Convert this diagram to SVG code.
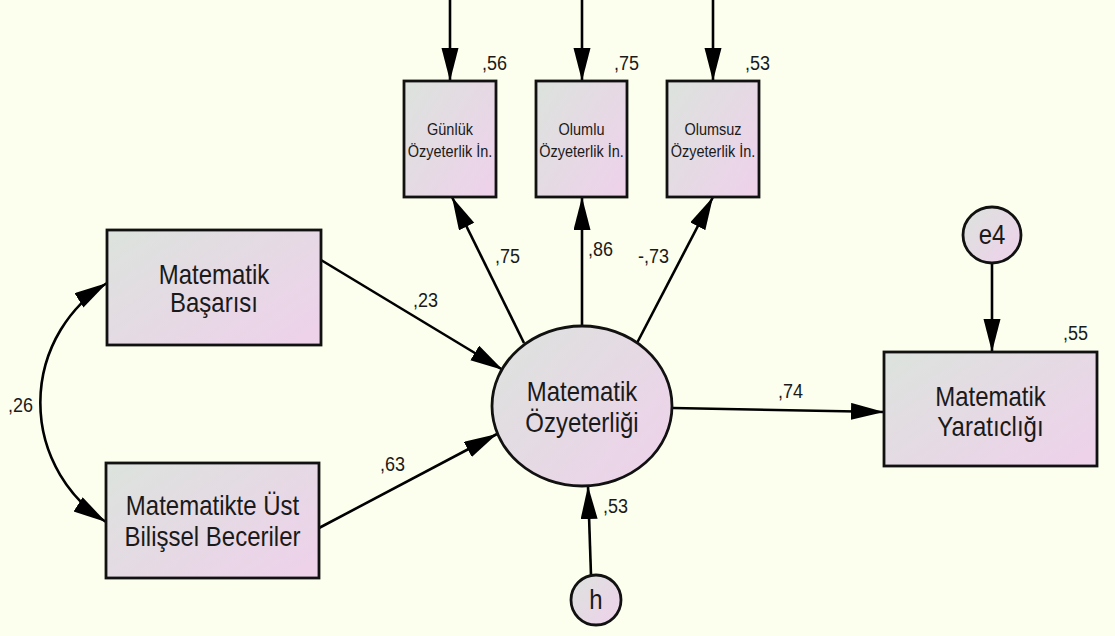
<svg xmlns="http://www.w3.org/2000/svg" width="1115" height="636" viewBox="0 0 1115 636">
  <defs>
    <linearGradient id="fillGrad" x1="0" y1="0" x2="1" y2="0.8">
      <stop offset="0" stop-color="#DCE3DD"/>
      <stop offset="1" stop-color="#EDD2EA"/>
    </linearGradient>
    <marker id="arrow" markerUnits="userSpaceOnUse" markerWidth="34" markerHeight="18" refX="33" refY="8.5" orient="auto-start-reverse">
      <path d="M0,0 L33,8.5 L0,17 z" fill="#000"/>
    </marker>
    <style>
      .box { fill: url(#fillGrad); stroke: #111; stroke-width: 2.8; }
      .edge { fill: none; stroke: #000; stroke-width: 2.6; marker-end: url(#arrow); }
      .lbl { font-family: "Liberation Sans", Arial, sans-serif; fill: #1a1a1a; text-anchor: middle; }
      .big { font-size: 24px; }
      .small { font-size: 14.5px; }
      .val { font-family: "Liberation Sans", Arial, sans-serif; fill: #1a1a1a; font-size: 18px; }
    </style>
  </defs>

  <rect x="0" y="0" width="1115" height="636" fill="#FDFFEE"/>

  <!-- paths between variables -->
  <g id="connectors">
    <line class="edge" x1="450" y1="0" x2="450" y2="81"/>
    <line class="edge" x1="582" y1="0" x2="582" y2="81"/>
    <line class="edge" x1="713" y1="0" x2="713" y2="81"/>
    <line class="edge" x1="524" y1="343" x2="452" y2="197"/>
    <line class="edge" x1="582" y1="326" x2="582" y2="197"/>
    <line class="edge" x1="637" y1="343" x2="713" y2="197"/>
    <line class="edge" x1="321" y1="260" x2="503" y2="370"/>
    <line class="edge" x1="319" y1="528" x2="497" y2="434"/>
    <line class="edge" x1="673" y1="408" x2="884" y2="412"/>
    <line class="edge" x1="992" y1="263" x2="992" y2="352"/>
    <line class="edge" x1="591" y1="575" x2="588" y2="486"/>
    <path class="edge" d="M107,283 A141,141 0 0 0 106,522" marker-start="url(#arrow)"/>

    <!-- standardized estimates (slightly stretched vertically) -->
    <text class="val" transform="translate(482,70) scale(1,1.1)">,56</text>
    <text class="val" transform="translate(614,70) scale(1,1.1)">,75</text>
    <text class="val" transform="translate(745,70) scale(1,1.1)">,53</text>
    <text class="val" transform="translate(495,263) scale(1,1.1)">,75</text>
    <text class="val" transform="translate(588,256) scale(1,1.1)">,86</text>
    <text class="val" transform="translate(638,263) scale(1,1.1)">-,73</text>
    <text class="val" transform="translate(413,307) scale(1,1.1)">,23</text>
    <text class="val" transform="translate(380,471) scale(1,1.1)">,63</text>
    <text class="val" transform="translate(778,398) scale(1,1.1)">,74</text>
    <text class="val" transform="translate(1063,340) scale(1,1.1)">,55</text>
    <text class="val" transform="translate(603,513) scale(1,1.1)">,53</text>
    <text class="val" transform="translate(8,412) scale(1,1.1)">,26</text>
  </g>

  <g id="gunluk">
    <rect class="box" x="404" y="81" width="92" height="116"/>
    <text class="lbl small" transform="translate(450,135) scale(1,1.15)">Günlük</text>
    <text class="lbl small" transform="translate(450,157) scale(1,1.15)">Özyeterlik İn.</text>
  </g>
  <g id="olumlu">
    <rect class="box" x="536" y="81" width="91" height="116"/>
    <text class="lbl small" transform="translate(581.5,135) scale(1,1.15)">Olumlu</text>
    <text class="lbl small" transform="translate(581.5,157) scale(1,1.15)">Özyeterlik İn.</text>
  </g>
  <g id="olumsuz">
    <rect class="box" x="667" y="81" width="92" height="116"/>
    <text class="lbl small" transform="translate(713,135) scale(1,1.15)">Olumsuz</text>
    <text class="lbl small" transform="translate(713,157) scale(1,1.15)">Özyeterlik İn.</text>
  </g>

  <g id="basari">
    <rect class="box" x="107" y="230" width="214" height="115"/>
    <text class="lbl big" transform="translate(214,284) scale(1,1.15)">Matematik</text>
    <text class="lbl big" transform="translate(214,312) scale(1,1.15)">Başarısı</text>
  </g>
  <g id="ustbilis">
    <rect class="box" x="106" y="463" width="213" height="115"/>
    <text class="lbl big" transform="translate(212.5,515) scale(1,1.15)">Matematikte Üst</text>
    <text class="lbl big" transform="translate(212.5,546) scale(1,1.15)">Bilişsel Beceriler</text>
  </g>

  <g id="ozyeterlik">
    <ellipse class="box" cx="582" cy="406" rx="90" ry="80"/>
    <text class="lbl big" transform="translate(582,401) scale(1,1.15)">Matematik</text>
    <text class="lbl big" transform="translate(582,432) scale(1,1.15)">Özyeterliği</text>
  </g>

  <g id="yaraticilik">
    <rect class="box" x="884" y="352" width="213" height="114"/>
    <text class="lbl big" transform="translate(990.5,406) scale(1,1.15)">Matematik</text>
    <text class="lbl big" transform="translate(990.5,436) scale(1,1.15)">Yaratıclığı</text>
  </g>

  <g id="e4">
    <ellipse class="box" cx="992" cy="235" rx="29" ry="28"/>
    <text class="lbl big" transform="translate(992,244) scale(1,1.15)">e4</text>
  </g>

  <g id="h">
    <ellipse class="box" cx="596" cy="600" rx="25" ry="25"/>
    <text class="lbl big" transform="translate(596,609) scale(1,1.15)">h</text>
  </g>
</svg>
